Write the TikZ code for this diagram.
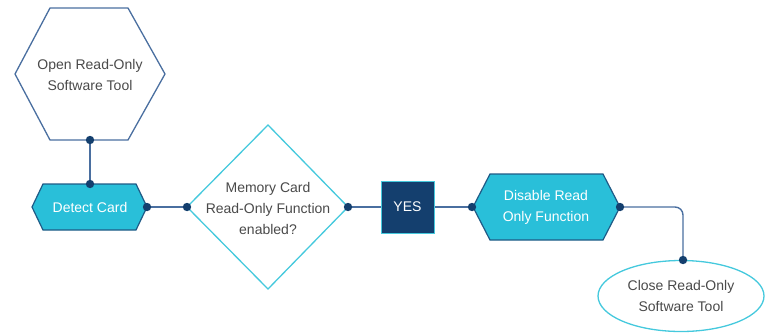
\documentclass[tikz,border=0pt]{standalone}
\usepackage{fontspec}
\setmainfont{Liberation Sans}
\definecolor{navy}{HTML}{143F6E}
\definecolor{steel}{HTML}{4A6FA0}
\definecolor{cyanfill}{HTML}{29BFD9}
\definecolor{cyanline}{HTML}{45C9DD}
\definecolor{txtgray}{HTML}{4A4A4A}
\definecolor{darkedge}{HTML}{1F5A86}
\begin{document}
\begin{tikzpicture}[x=1pt,y=-1pt,
  lbl/.style={align=center,font=\fontsize{14}{21}\selectfont,text=txtgray,inner sep=0pt},
  wlbl/.style={lbl,text=white},
  conn/.style={draw=steel,line width=1.4pt},
  dotc/.style={fill=navy,draw=none},
  outl/.style={draw=steel,line width=1.3pt,fill=white},
  cyanshape/.style={draw=darkedge,line width=1.2pt,fill=cyanfill},
  thincyan/.style={draw=cyanline,line width=1.3pt,fill=white}]
\useasboundingbox (0,0) rectangle (765,333);
% anchor coordinates
\coordinate (openB) at (90,140);
\coordinate (detT) at (90,184);
\coordinate (detR) at (147,207);
\coordinate (diaL) at (187,207);
\coordinate (diaR) at (348,207);
\coordinate (yesL) at (381,207);
\coordinate (yesR) at (434,207);
\coordinate (disL) at (472,207);
\coordinate (disR) at (620,207);
\coordinate (closeT) at (683,260);
% connectors
\draw[conn] (openB) -- (detT);
\draw[conn] (detR) -- (diaL);
\draw[conn] (diaR) -- (yesL);
\draw[conn] (yesR) -- (disL);
\draw[conn,rounded corners=8pt] (disR) -- (disR -| closeT) -- (closeT);
% shapes
\path[outl] (15,74) -- (50,8) -- (128,8) -- (165,74) -- (128,140) -- (50,140) -- cycle;
\path[cyanshape] (32,207) -- (43,184) -- (136,184) -- (147,207) -- (136,230) -- (43,230) -- cycle;
\path[thincyan] (187,207) -- (268,125) -- (348,207) -- (268,289) -- cycle;
\path[draw=cyanline,line width=1pt,fill=navy] (381,181) rectangle (434,233);
\path[cyanshape] (473,207) -- (490,174) -- (603,174) -- (620,207) -- (603,240) -- (490,240) -- cycle;
\path[thincyan] (681,296) ellipse [x radius=83, y radius=35.5];
% labels
\node[lbl] (open) at (90,75) {Open Read-Only\\Software Tool};
\node[wlbl] (detect) at (90,207) {Detect Card};
\node[lbl] (mem) at (268,208) {Memory Card\\Read-Only Function\\enabled?};
\node[wlbl] (yes) at (407.5,207) {YES};
\node[wlbl] (dis) at (546,207) {Disable Read\\Only Function};
\node[lbl] (close) at (681,296) {Close Read-Only\\Software Tool};
% dots
\foreach \p in {openB,detT,detR,diaL,diaR,disL,disR,closeT}
  \fill[dotc] (\p) circle (4.2);
\end{tikzpicture}
\end{document}
